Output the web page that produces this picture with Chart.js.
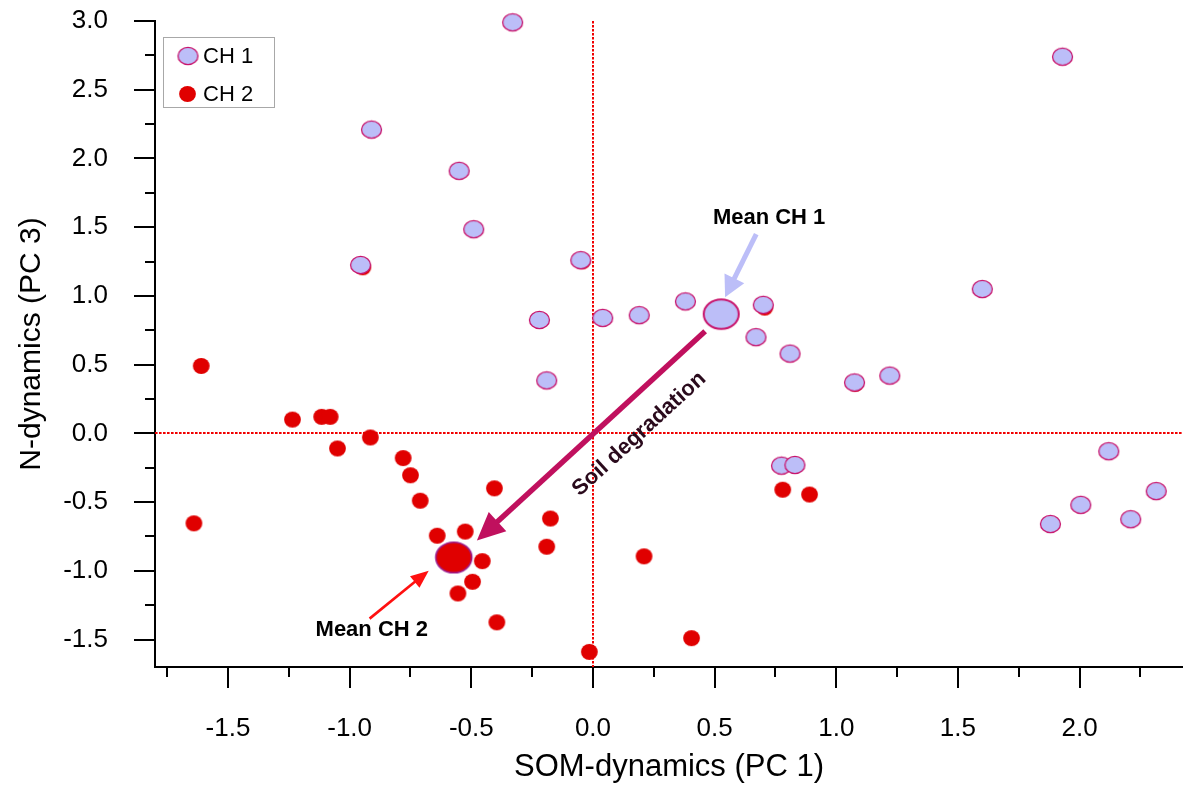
<!DOCTYPE html>
<html>
<head>
<meta charset="utf-8">
<script src="https://cdn.jsdelivr.net/npm/chart.js@4.4.1/dist/chart.umd.min.js"></script>
<style>
  html, body { margin: 0; padding: 0; background: #ffffff; }
  #wrap { width: 1183px; height: 789px; position: relative; }
</style>
</head>
<body>
<div id="wrap"><canvas id="c" width="1183" height="789"></canvas></div>
<script>
// ---- PCA scores (PC 1 vs PC 3) ----
const seriesNames = ['CH 1', 'CH 2'];
const xTitle = 'SOM-dynamics (PC 1)';
const yTitle = 'N-dynamics (PC 3)';

const ch1X = [-0.33, 1.93, -0.91, -0.55, -0.49, -0.955, -0.05, 0.38, 0.04, 0.19, -0.22, 0.70, 0.67, 0.81, -0.19, 1.60, 1.075, 1.22, 0.775, 0.83, 2.12, 2.005, 2.315, 1.88, 2.21];
const ch1Y = [2.99, 2.74, 2.21, 1.91, 1.485, 1.225, 1.26, 0.96, 0.84, 0.86, 0.825, 0.935, 0.70, 0.58, 0.385, 1.05, 0.37, 0.42, -0.235, -0.23, -0.13, -0.52, -0.42, -0.66, -0.625];

const ch2X = [-1.61, -1.64, -1.235, -1.115, -1.08, -1.05, -0.915, -0.78, -0.75, -0.71, -0.64, -0.525, -0.455, -0.495, -0.555, -0.405, -0.175, -0.19, -0.395, -0.015, 0.21, 0.405, 0.78, 0.89, -0.946, -0.044, 0.706, 1.078];
const ch2Y = [0.49, -0.655, 0.10, 0.12, 0.12, -0.11, -0.03, -0.18, -0.305, -0.49, -0.745, -0.715, -0.93, -1.08, -1.165, -0.40, -0.62, -0.825, -1.375, -1.59, -0.895, -1.49, -0.41, -0.445, 1.208, 1.252, 0.915, 0.36];

const meanCH1 = [0.527, 0.867];
const meanCH2 = [-0.572, -0.903];

// axis ranges and tick step
const xRange = [-1.8, 2.425];
const yRange = [-1.7, 3.0];
const tickStep = 0.25;
const labelStep = 0.5;

// annotation anchors, in data units
const annotations = {
  degradeFrom: [0.461, 0.743], degradeTo: [-0.477, -0.78],
  mean1From: [0.671, 1.45], mean1To: [0.543, 0.991],
  mean2From: [-0.918, -1.348], mean2To: [-0.675, -0.999],
  mean1Label: [0.724, 1.567], mean2Label: [-0.909, -1.43],
  degradeLabel: [0.19, -0.005]
};

const FONT = "'Liberation Sans', Arial, Helvetica, sans-serif";
const LAVENDER = '#bcbef8';
const CRIMSON = '#c8146c';
const RED = '#e00000';

function ellipseImg(rx, ry, fill, stroke, lw) {
  const pad = (stroke ? lw : 0) + 1;
  const w = Math.round(2 * rx + 2 * pad), h = Math.round(2 * ry + 2 * pad);
  const c = document.createElement('canvas');
  c.width = w; c.height = h;
  const g = c.getContext('2d');
  g.beginPath();
  g.ellipse(w / 2, h / 2, rx, ry, 0, 0, Math.PI * 2);
  g.fillStyle = fill;
  g.fill();
  if (stroke) { g.lineWidth = lw; g.strokeStyle = stroke; g.stroke(); }
  return c;
}

const imgCH1 = ellipseImg(10, 8.6, LAVENDER, CRIMSON, 1.3);
const imgCH2 = ellipseImg(8.4, 8, RED, null, 0);
const imgMean1 = ellipseImg(17.5, 14.8, LAVENDER, CRIMSON, 2);
const imgMean2 = ellipseImg(18, 15.3, RED, '#9a1a8c', 1.6);

const toPts = (xs, ys) => xs.map((x, i) => ({ x: x, y: ys[i] }));

function drawArrow(ctx, x1, y1, x2, y2, lw, color, headLen, headHalf) {
  const ang = Math.atan2(y2 - y1, x2 - x1);
  const bx = x2 - headLen * Math.cos(ang), by = y2 - headLen * Math.sin(ang);
  ctx.save();
  ctx.strokeStyle = color; ctx.fillStyle = color;
  ctx.lineWidth = lw; ctx.lineCap = 'butt';
  ctx.beginPath(); ctx.moveTo(x1, y1); ctx.lineTo(bx + Math.cos(ang), by + Math.sin(ang)); ctx.stroke();
  ctx.beginPath();
  ctx.moveTo(x2, y2);
  ctx.lineTo(bx + headHalf * Math.sin(ang), by - headHalf * Math.cos(ang));
  ctx.lineTo(bx - headHalf * Math.sin(ang), by + headHalf * Math.cos(ang));
  ctx.closePath(); ctx.fill();
  ctx.restore();
}

const isLabelTick = v => Math.abs(v / labelStep - Math.round(v / labelStep)) < 1e-6;

const decor = {
  id: 'decor',
  beforeDatasetsDraw(chart) {
    const { ctx, chartArea: a, scales: { x, y } } = chart;
    const px0 = Math.round(x.getPixelForValue(0)), py0 = Math.round(y.getPixelForValue(0));
    ctx.save();
    ctx.strokeStyle = '#f00000';
    ctx.lineWidth = 2;
    ctx.setLineDash([2.6, 1.4]);
    ctx.beginPath();
    ctx.moveTo(a.left, py0); ctx.lineTo(a.right, py0);
    ctx.moveTo(px0, a.top); ctx.lineTo(px0, a.bottom);
    ctx.stroke();
    ctx.restore();
  },
  afterDatasetsDraw(chart) {
    const { ctx, scales: { x, y } } = chart;
    const P = p => [x.getPixelForValue(p[0]), y.getPixelForValue(p[1])];
    const an = annotations;

    // soil degradation arrow
    const d1 = P(an.degradeFrom), d2 = P(an.degradeTo);
    drawArrow(ctx, d1[0], d1[1], d2[0], d2[1], 5.5, '#c0105e', 28, 13);
    // pointers to the group means
    const m1a = P(an.mean1From), m1b = P(an.mean1To);
    drawArrow(ctx, m1a[0], m1a[1], m1b[0], m1b[1], 5, LAVENDER, 21, 11);
    const m2a = P(an.mean2From), m2b = P(an.mean2To);
    drawArrow(ctx, m2a[0], m2a[1], m2b[0], m2b[1], 2.6, '#ff1010', 18, 7.5);

    ctx.save();
    ctx.font = 'bold 22px ' + FONT;
    ctx.fillStyle = '#000000';
    ctx.textAlign = 'center';
    ctx.textBaseline = 'middle';
    const l1 = P(an.mean1Label), l2 = P(an.mean2Label);
    ctx.fillText('Mean CH 1', l1[0], l1[1]);
    ctx.fillText('Mean CH 2', l2[0], l2[1]);
    const dl = P(an.degradeLabel);
    const ang = Math.atan2(d1[1] - d2[1], d1[0] - d2[0]);
    ctx.translate(dl[0], dl[1]);
    ctx.rotate(ang);
    ctx.fillStyle = '#2a0a1c';
    ctx.fillText('Soil degradation', 0, 0);
    ctx.restore();
  },
  afterDraw(chart) {
    const { ctx, chartArea: a, scales: { x, y } } = chart;
    ctx.save();
    ctx.strokeStyle = '#000000';
    ctx.lineWidth = 2;
    ctx.beginPath();
    x.ticks.forEach(t => {
      const px = Math.round(x.getPixelForValue(t.value));
      const len = isLabelTick(t.value) ? 21 : 10;
      ctx.moveTo(px, a.bottom); ctx.lineTo(px, a.bottom + len);
    });
    y.ticks.forEach(t => {
      const py = Math.round(y.getPixelForValue(t.value));
      const len = isLabelTick(t.value) ? 21 : 10;
      ctx.moveTo(a.left, py); ctx.lineTo(a.left - len, py);
    });
    ctx.stroke();

    // legend
    const bx = 163.5, by = 37.5, bw = 111, bh = 70;
    ctx.fillStyle = '#ffffff';
    ctx.fillRect(bx, by, bw, bh);
    ctx.strokeStyle = '#a8a8a8';
    ctx.lineWidth = 1;
    ctx.strokeRect(bx, by, bw, bh);
    ctx.drawImage(imgCH1, 188 - imgCH1.width / 2, 56 - imgCH1.height / 2);
    ctx.drawImage(imgCH2, 187.5 - imgCH2.width / 2, 94 - imgCH2.height / 2);
    ctx.font = '22px ' + FONT;
    ctx.fillStyle = '#000000';
    ctx.textAlign = 'left';
    ctx.textBaseline = 'middle';
    ctx.fillText(seriesNames[0], 203, 57);
    ctx.fillText(seriesNames[1], 203, 95);
    ctx.restore();
  }
};

const tickCallback = v => isLabelTick(v) ? (Math.abs(v) < 1e-9 ? '0.0' : v.toFixed(1)) : '';

new Chart(document.getElementById('c'), {
  type: 'scatter',
  data: {
    datasets: [
      { label: 'Mean ' + seriesNames[0], data: [{ x: meanCH1[0], y: meanCH1[1] }], pointStyle: imgMean1, order: 0, clip: false },
      { label: 'Mean ' + seriesNames[1], data: [{ x: meanCH2[0], y: meanCH2[1] }], pointStyle: imgMean2, order: 1, clip: false },
      { label: seriesNames[0], data: toPts(ch1X, ch1Y), pointStyle: imgCH1, order: 2, clip: false },
      { label: seriesNames[1], data: toPts(ch2X, ch2Y), pointStyle: imgCH2, order: 3, clip: false }
    ]
  },
  options: {
    responsive: false,
    animation: false,
    devicePixelRatio: 1,
    events: [],
    layout: { autoPadding: false, padding: { top: 21, right: 0, bottom: 0, left: 0 } },
    plugins: { legend: { display: false }, tooltip: { enabled: false } },
    scales: {
      x: {
        type: 'linear', position: 'bottom',
        min: xRange[0], max: xRange[1],
        afterFit: s => { s.height = 122; s.paddingLeft = 0; s.paddingRight = 0; },
        grid: { display: false, drawTicks: false },
        border: { display: true, color: '#000000', width: 2 },
        ticks: { stepSize: tickStep, includeBounds: false, autoSkip: false, maxRotation: 0, padding: 46,
                 color: '#000000', font: { family: FONT, size: 26 }, callback: tickCallback },
        title: { display: true, text: xTitle, color: '#000000', font: { family: FONT, size: 31 }, padding: { top: 0, bottom: 3 } }
      },
      y: {
        type: 'linear', position: 'left',
        min: yRange[0], max: yRange[1],
        afterFit: s => { s.width = 155; s.paddingTop = 0; s.paddingBottom = 0; },
        grid: { display: false, drawTicks: false },
        border: { display: true, color: '#000000', width: 2 },
        ticks: { stepSize: tickStep, includeBounds: false, autoSkip: false, padding: 47,
                 color: '#000000', font: { family: FONT, size: 26 }, callback: tickCallback },
        title: { display: true, text: yTitle, color: '#000000', font: { family: FONT, size: 30 }, padding: { top: 14, bottom: 0 } }
      }
    }
  },
  plugins: [decor]
});
</script>
</body>
</html>
